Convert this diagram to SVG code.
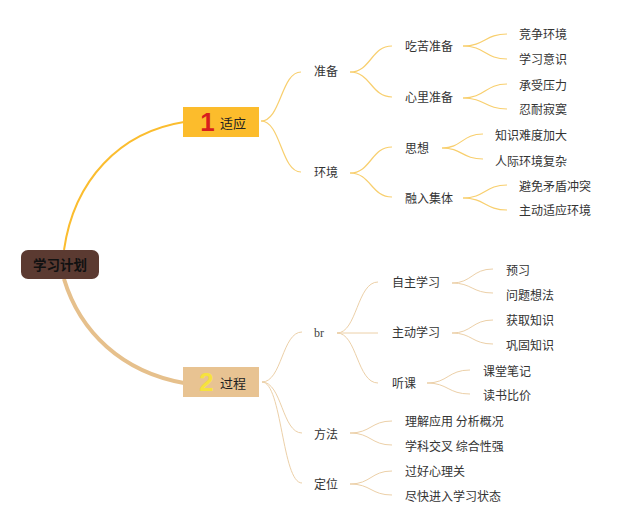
<svg xmlns="http://www.w3.org/2000/svg" width="640" height="530" viewBox="0 0 640 530">
<style>
.t{font-family:"Noto Sans CJK SC","Noto Sans",sans-serif;font-size:12px;fill:#333}
.b{font-family:"Liberation Serif",serif;font-size:12px;fill:#444}
.c1{fill:none;stroke:#f8cf6e;stroke-width:1.2}
.c2{fill:none;stroke:#ecd0a8;stroke-width:1}
</style>
<rect width="640" height="530" fill="#fff"/>
<g id="connectors">
<path d="M64,250 C74,180 120,132 184,122" fill="none" stroke="#fbbd2f" stroke-width="2"/>
<path d="M64,279 C80,332 122,372 184,383" fill="none" stroke="#e6c08c" stroke-width="4"/>
<g class="c1">
<path d="M261,121 C281,121 281,72 301,72"/>
<path d="M261,121 C281,121 281,172 301,172"/>
<path d="M350,72 C371,72 371,46 392,46"/>
<path d="M350,72 C371,72 371,97 392,97"/>
<path d="M463,46 C485,46 485,34 507,34"/>
<path d="M463,46 C485,46 485,59 507,59"/>
<path d="M463,98 C485,98 485,84 507,84"/>
<path d="M463,98 C485,98 485,109 507,109"/>
<path d="M350,173 C371,173 371,147 392,147"/>
<path d="M350,173 C371,173 371,197 392,197"/>
<path d="M442,148 C462,148 462,134 483,134"/>
<path d="M442,148 C462,148 462,159 483,159"/>
<path d="M463,198 C485,198 485,185 507,185"/>
<path d="M463,198 C485,198 485,210 507,210"/>
</g>
<g class="c2">
<path d="M262,382 C282,382 282,332 302,332"/>
<path d="M262,382 C282,382 282,433 302,433"/>
<path d="M262,382 C282,382 282,483 302,483"/>
<path d="M337,333 C357,333 357,282 378,282"/>
<path d="M337,333 L378,333"/>
<path d="M337,333 C357,333 357,383 378,383"/>
<path d="M452,283 C472,283 472,269 493,269"/>
<path d="M452,283 C472,283 472,293 493,293"/>
<path d="M452,333 C472,333 472,320 493,320"/>
<path d="M452,333 C472,333 472,344 493,344"/>
<path d="M427,383 C448,383 448,370 470,370"/>
<path d="M427,383 C448,383 448,394 470,394"/>
<path d="M350,433 C371,433 371,421 392,421"/>
<path d="M350,433 C371,433 371,445 392,445"/>
<path d="M350,484 C371,484 371,471 392,471"/>
<path d="M350,484 C371,484 371,495 392,495"/>
</g>
</g>
<g id="root">
<rect x="21" y="250" width="78" height="29" rx="7" fill="#5b3a31"/>
<text x="60" y="270" text-anchor="middle" font-family="Noto Sans CJK SC, sans-serif" font-size="13.5" font-weight="bold" fill="#111">学习计划</text>
</g>
<g id="n1">
<rect x="183" y="107" width="76" height="30" fill="#fcbc2c"/>
<text x="207.5" y="131" text-anchor="middle" font-family="Liberation Sans, sans-serif" font-size="26" font-weight="bold" fill="#d81e1e">1</text>
<text x="220" y="128" font-family="Noto Sans CJK SC, sans-serif" font-size="13" fill="#222">适应</text>
</g>
<g id="n2">
<rect x="183" y="367" width="76" height="30" fill="#e8c392"/>
<text x="206.5" y="391" text-anchor="middle" font-family="Liberation Sans, sans-serif" font-size="26" font-weight="bold" fill="#f6e23e">2</text>
<text x="220" y="388" font-family="Noto Sans CJK SC, sans-serif" font-size="13" fill="#222">过程</text>
</g>
<g id="zhunbei"><text class="t" x="314" y="76">准备</text></g>
<g id="chiku"><text class="t" x="405" y="51">吃苦准备</text></g>
<g id="xinli"><text class="t" x="405" y="102">心里准备</text></g>
<g id="l1"><text class="t" x="519" y="39">竞争环境</text></g>
<g id="l2"><text class="t" x="519" y="64">学习意识</text></g>
<g id="l3"><text class="t" x="519" y="90">承受压力</text></g>
<g id="l4"><text class="t" x="519" y="114">忍耐寂寞</text></g>
<g id="huanjing"><text class="t" x="314" y="177">环境</text></g>
<g id="sixiang"><text class="t" x="405" y="153">思想</text></g>
<g id="rongru"><text class="t" x="405" y="203">融入集体</text></g>
<g id="l5"><text class="t" x="495" y="140">知识难度加大</text></g>
<g id="l6"><text class="t" x="495" y="166">人际环境复杂</text></g>
<g id="l7"><text class="t" x="519" y="191">避免矛盾冲突</text></g>
<g id="l8"><text class="t" x="519" y="215">主动适应环境</text></g>
<g id="br"><text class="b" x="314" y="337">br</text></g>
<g id="zizhu"><text class="t" x="392" y="287">自主学习</text></g>
<g id="zhudong"><text class="t" x="392" y="337">主动学习</text></g>
<g id="tingke"><text class="t" x="392" y="388">听课</text></g>
<g id="l9"><text class="t" x="506" y="275">预习</text></g>
<g id="l10"><text class="t" x="506" y="300">问题想法</text></g>
<g id="l11"><text class="t" x="506" y="325">获取知识</text></g>
<g id="l12"><text class="t" x="506" y="350">巩固知识</text></g>
<g id="l13"><text class="t" x="483" y="376">课堂笔记</text></g>
<g id="l14"><text class="t" x="483" y="400">读书比价</text></g>
<g id="fangfa"><text class="t" x="314" y="439">方法</text></g>
<g id="l15"><text class="t" x="405" y="426">理解应用 分析概况</text></g>
<g id="l16"><text class="t" x="405" y="451">学科交叉 综合性强</text></g>
<g id="dingwei"><text class="t" x="314" y="489">定位</text></g>
<g id="l17"><text class="t" x="405" y="476">过好心理关</text></g>
<g id="l18"><text class="t" x="405" y="501">尽快进入学习状态</text></g>
</svg>
